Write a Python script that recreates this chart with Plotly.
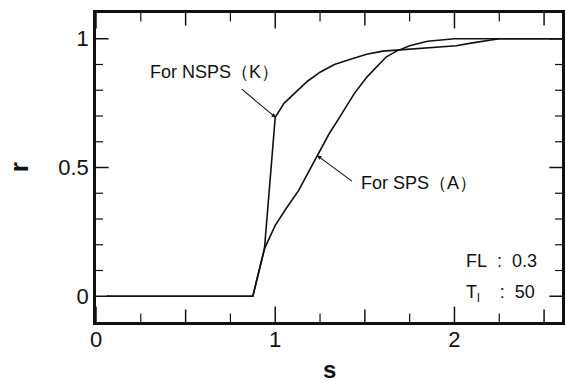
import plotly.graph_objects as go

# Data
nsps_s = [0.06, 0.875, 0.94, 1.0, 1.05, 1.12, 1.18, 1.25, 1.33, 1.42, 1.51, 1.6, 1.68, 1.8, 1.9, 2.01, 2.1, 2.18, 2.25, 2.4, 2.6]
nsps_r = [0.0, 0.0, 0.185, 0.695, 0.75, 0.795, 0.835, 0.87, 0.90, 0.92, 0.94, 0.952, 0.956, 0.962, 0.967, 0.973, 0.984, 0.992, 1.0, 1.0, 1.0]

sps_s = [0.06, 0.875, 0.94, 1.0, 1.06, 1.13, 1.18, 1.24, 1.30, 1.35, 1.44, 1.51, 1.57, 1.62, 1.68, 1.75, 1.85, 1.92, 2.0, 2.6]
sps_r = [0.0, 0.0, 0.185, 0.275, 0.34, 0.41, 0.475, 0.55, 0.63, 0.685, 0.786, 0.85, 0.895, 0.93, 0.953, 0.973, 0.99, 0.996, 1.0, 1.0]

# tick labels / tick positions
x_range = [0, 2.6]
y_range = [-0.1, 1.1]
x_tickvals = [0, 1, 2]
x_ticktext = ["0", "1", "2"]
x_half_ticks = [0.5, 1.5, 2.5]
x_minor_ticks = [0.25, 0.75, 1.25, 1.75, 2.25]
y_tickvals = [0, 0.5, 1]
y_ticktext = ["0", "0.5", "1"]
y_minor_ticks = [0.1, 0.2, 0.3, 0.4, 0.6, 0.7, 0.8, 0.9]

FONT = "Liberation Sans, Arial, Helvetica, sans-serif"
INK = "#111111"

fig = go.Figure()
fig.add_trace(go.Scatter(x=nsps_s, y=nsps_r, mode="lines",
                         line=dict(color=INK, width=1.6), showlegend=False, hoverinfo="skip"))
fig.add_trace(go.Scatter(x=sps_s, y=sps_r, mode="lines",
                         line=dict(color=INK, width=1.6), showlegend=False, hoverinfo="skip"))

# inward tick marks on all four sides: line markers centred on the frame,
# the outer half is clipped away by the plot area
def xticks(vals, length, width):
    for edge in y_range:
        fig.add_trace(go.Scatter(x=vals, y=[edge] * len(vals), mode="markers", cliponaxis=True,
                                 marker=dict(symbol="line-ns", size=2 * length, color=INK,
                                             line=dict(color=INK, width=width)),
                                 showlegend=False, hoverinfo="skip"))

def yticks(vals, length, width):
    for edge in x_range:
        fig.add_trace(go.Scatter(x=[edge] * len(vals), y=vals, mode="markers", cliponaxis=True,
                                 marker=dict(symbol="line-ew", size=2 * length, color=INK,
                                             line=dict(color=INK, width=width)),
                                 showlegend=False, hoverinfo="skip"))

xticks(x_tickvals, 11, 1.5)
xticks(x_half_ticks, 9, 1.5)
xticks(x_minor_ticks, 6, 1.2)
yticks(y_tickvals, 9, 1.5)
yticks(y_minor_ticks, 5, 1.2)

fig.update_xaxes(range=x_range, tickmode="array", tickvals=x_tickvals, ticktext=x_ticktext,
                 ticks="", showgrid=False, zeroline=False, showline=True, linecolor=INK,
                 linewidth=2.5, mirror=True, ticklabelstandoff=-4,
                 tickfont=dict(family=FONT, size=22, color=INK))
fig.update_yaxes(range=y_range, tickmode="array", tickvals=y_tickvals, ticktext=y_ticktext,
                 ticks="", showgrid=False, zeroline=False, showline=True, linecolor=INK,
                 linewidth=2.5, mirror=True,
                 tickfont=dict(family=FONT, size=22, color=INK))

ann = []
# arrows
ann.append(dict(x=1.003, y=0.694, ax=0.805, ay=0.809, xref="x", yref="y", axref="x", ayref="y",
                text="", showarrow=True, arrowhead=2, arrowsize=0.8, arrowwidth=1.1,
                arrowcolor=INK, standoff=0))
ann.append(dict(x=1.234, y=0.547, ax=1.436, ay=0.443, xref="x", yref="y", axref="x", ayref="y",
                text="", showarrow=True, arrowhead=2, arrowsize=0.8, arrowwidth=1.1,
                arrowcolor=INK, standoff=0))
# labels
ann.append(dict(x=0.66, y=0.872, xref="x", yref="y", text="For NSPS（K）", showarrow=False,
                font=dict(family=FONT, size=18, color=INK), xanchor="center", yanchor="middle"))
ann.append(dict(x=1.80, y=0.439, xref="x", yref="y", text="For SPS（A）", showarrow=False,
                font=dict(family=FONT, size=18, color=INK), xanchor="center", yanchor="middle"))
ann.append(dict(x=2.055, y=0.136, xref="x", yref="y", text="FL\u00a0\u00a0:\u00a0\u00a00.3", showarrow=False,
                font=dict(family=FONT, size=18, color=INK), xanchor="left", yanchor="middle"))
ann.append(dict(x=2.055, y=0.012, xref="x", yref="y",
                text="T<sub>l</sub>\u00a0\u00a0\u00a0\u00a0:\u00a0\u00a050", showarrow=False,
                font=dict(family=FONT, size=18, color=INK), xanchor="left", yanchor="middle"))
# axis titles
ann.append(dict(x=-0.166, y=0.5, xref="paper", yref="paper", text="<b>r</b>", showarrow=False,
                textangle=-90, font=dict(family=FONT, size=26, color=INK),
                xanchor="center", yanchor="middle"))
ann.append(dict(x=0.5, y=-0.155, xref="paper", yref="paper", text="<b>s</b>", showarrow=False,
                font=dict(family=FONT, size=24, color=INK), xanchor="center", yanchor="middle"))

fig.update_layout(width=566, height=382, margin=dict(l=96, r=1, t=13, b=60),
                  paper_bgcolor="white", plot_bgcolor="white", annotations=ann)

fig.write_html("out.html")
